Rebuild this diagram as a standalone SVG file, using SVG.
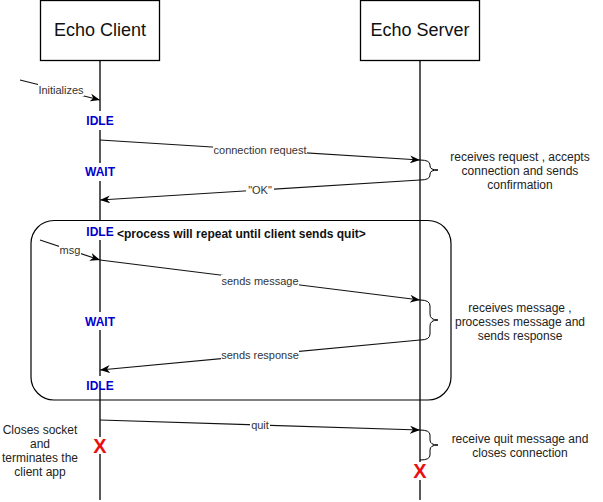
<svg xmlns="http://www.w3.org/2000/svg" width="603" height="502" viewBox="0 0 603 502">
<defs>
<marker id="arr" viewBox="0 0 10 8" refX="10" refY="4" markerWidth="10" markerHeight="8" markerUnits="userSpaceOnUse" orient="auto">
<path d="M0,0 L10,4 L0,8 L3,4 z" fill="#000"/>
</marker>
<style>
text{font-family:"Liberation Sans",Arial,sans-serif;}
.box{fill:#fff;stroke:#000;stroke-width:1.3;}
.life{stroke:#000;stroke-width:1.3;fill:none;}
.title{font-size:18px;fill:#111;text-anchor:middle;}
.msg{stroke:#111;stroke-width:1.2;fill:none;marker-end:url(#arr);}
.lbl{font-size:11px;fill:#333;text-anchor:middle;}
.side{font-size:12px;fill:#222;text-anchor:middle;}
.state{font-size:12px;font-weight:bold;fill:#0000CC;text-anchor:middle;}
.bg{fill:#fff;stroke:none;}
.brace{stroke:#000;stroke-width:1;fill:none;}
.x{font-size:20px;font-weight:bold;fill:#E81010;text-anchor:middle;}
</style>
</defs>

<g id="client">
<rect class="box" x="40.5" y="0.5" width="119" height="60"/>
<text class="title" x="100" y="36">Echo Client</text>
<line class="life" x1="100" y1="60.5" x2="100" y2="500"/>
</g>
<g id="server">
<rect class="box" x="360.5" y="0.5" width="119" height="60"/>
<text class="title" x="420" y="36">Echo Server</text>
<line class="life" x1="420" y1="60.5" x2="420" y2="500"/>
</g>

<g id="connectors">
<line class="msg" x1="20" y1="80" x2="100" y2="100"/>
<line class="msg" x1="100" y1="140" x2="420" y2="160"/>
<line class="msg" x1="420" y1="180" x2="100" y2="200"/>
<line class="msg" x1="40" y1="240" x2="100" y2="260"/>
<line class="msg" x1="100" y1="260" x2="420" y2="300"/>
<line class="msg" x1="420" y1="340" x2="100" y2="370"/>
<line class="msg" x1="100" y1="420" x2="420" y2="430"/>
<rect class="bg" x="38" y="84" width="46" height="12"/>
<text class="lbl" x="61" y="94">Initializes</text>
<rect class="bg" x="213" y="144" width="94" height="12"/>
<text class="lbl" x="260" y="154">connection request</text>
<rect class="bg" x="246" y="184" width="28" height="12"/>
<text class="lbl" x="260" y="194">"OK"</text>
<rect class="bg" x="59" y="244" width="22" height="12"/>
<text class="lbl" x="70" y="254">msg</text>
<rect class="bg" x="221" y="275" width="78" height="12"/>
<text class="lbl" x="260" y="285">sends message</text>
<rect class="bg" x="221" y="349" width="78" height="12"/>
<text class="lbl" x="260" y="359">sends response</text>
<rect class="bg" x="250" y="419" width="20" height="12"/>
<text class="lbl" x="260" y="429">quit</text>
</g>

<g id="states">
<rect class="bg" x="84" y="111" width="32" height="19"/>
<text class="state" x="100" y="125">IDLE</text>
<rect class="bg" x="82" y="163" width="36" height="18"/>
<text class="state" x="100" y="176">WAIT</text>
<rect class="bg" x="84" y="221" width="32" height="19"/>
<text class="state" x="100" y="236">IDLE</text>
<rect class="bg" x="82" y="312" width="36" height="18"/>
<text class="state" x="100" y="326">WAIT</text>
<rect class="bg" x="84" y="376" width="32" height="14"/>
<text class="state" x="100" y="390">IDLE</text>
</g>

<g id="loop">
<rect x="31" y="220.5" width="420" height="179.5" rx="23" ry="23" fill="none" stroke="#000" stroke-width="1.2"/>
<text x="117" y="238" font-size="12" font-weight="bold" fill="#111">&lt;process will repeat until client sends quit&gt;</text>
</g>

<g id="note-request">
<path class="brace" d="M420,160 Q430,160 430,165 L430,166 Q430,170 438,170 Q430,170 430,174 L430,175 Q430,180 420,180"/>
<text class="side" x="520" y="161">receives request , accepts</text>
<text class="side" x="520" y="175">connection and sends</text>
<text class="side" x="520" y="189">confirmation</text>
</g>

<g id="note-message">
<path class="brace" d="M420,300 Q430,300 430,306 L430,314 Q430,320 438,320 Q430,320 430,326 L430,334 Q430,340 420,340"/>
<text class="side" x="520" y="312">receives message ,</text>
<text class="side" x="520" y="326">processes message and</text>
<text class="side" x="520" y="340">sends response</text>
</g>

<g id="note-quit">
<path class="brace" d="M420,430 Q430,430 430,435 L430,440 Q430,445 438,445 Q430,445 430,450 L430,455 Q430,460 420,460"/>
<text class="side" x="520" y="443">receive quit message and</text>
<text class="side" x="520" y="457">closes connection</text>
</g>

<g id="client-close">
<text class="side" x="40" y="434">Closes socket</text>
<text class="side" x="40" y="448">and</text>
<text class="side" x="40" y="462">terminates the</text>
<text class="side" x="40" y="476">client app</text>
<rect class="bg" x="92" y="437" width="16" height="17"/>
<text class="x" x="100" y="453">X</text>
</g>

<g id="server-close">
<rect class="bg" x="412" y="462" width="16" height="18"/>
<text class="x" x="420" y="478">X</text>
</g>
</svg>
